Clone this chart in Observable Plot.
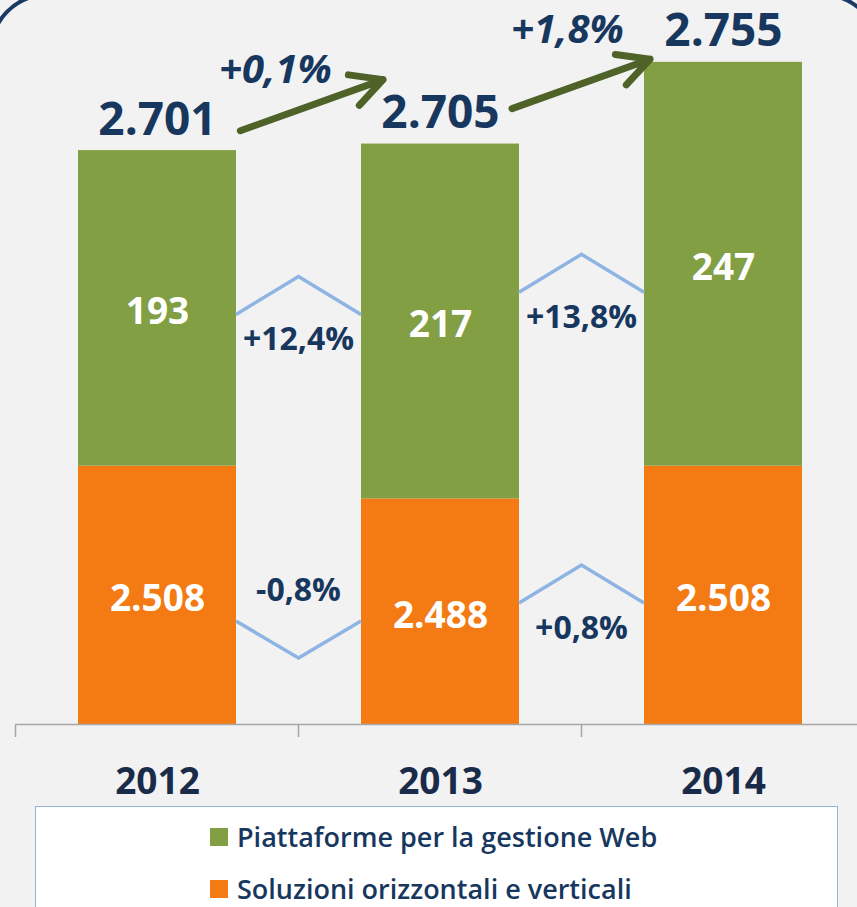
<!DOCTYPE html>
<html><head><meta charset="utf-8">
<script src="https://cdn.jsdelivr.net/npm/d3@7"></script>
<script src="https://cdn.jsdelivr.net/npm/@observablehq/plot@0.6"></script>
<style>
html,body{margin:0;padding:0;background:#f2f2f2;width:857px;height:907px;overflow:hidden;font-family:"Open Sans",sans-serif;}
#chart{position:absolute;left:0;top:0;}
#frame{position:absolute;left:-11px;top:-7px;width:892px;height:1000px;box-sizing:border-box;border:4px solid #1b3a63;border-radius:58px;pointer-events:none;}
#legend{position:absolute;left:35px;top:806px;width:803px;height:120px;background:#fff;border:1px solid #95b3d7;box-sizing:border-box;}
.item{position:absolute;left:174px;display:flex;align-items:center;font-size:27px;font-weight:600;color:#17375e;line-height:30px;}
.sw{width:18px;height:18px;margin-right:9px;}
</style></head><body>
<div id="chart"></div>
<div id="legend"></div>
<div id="frame"></div>
<script>
// ---- data ----
const years = ["2012", "2013", "2014"];
const soluzioni = [2508, 2488, 2508];     // Soluzioni orizzontali e verticali
const piattaforme = [193, 217, 247];      // Piattaforme per la gestione Web
const seriesNames = ["Piattaforme per la gestione Web", "Soluzioni orizzontali e verticali"];
const totalGrowth = ["+0,1%", "+1,8%"];
const piattGrowth = ["+12,4%", "+13,8%"];
const soluzGrowth = ["-0,8%", "+0,8%"];
const axisBase = 2350;                    // truncated baseline of the original chart

// ---- derived ----
const totals = years.map((y, i) => soluzioni[i] + piattaforme[i]);
const fmt = d3.formatLocale({decimal: ",", thousands: ".", grouping: [3], currency: ["€", ""]}).format(",d");
const stack = [];
years.forEach((year, i) => {
  stack.push({year, serie: seriesNames[1], y1: axisBase, y2: soluzioni[i], value: soluzioni[i]});
  stack.push({year, serie: seriesNames[0], y1: soluzioni[i], y2: totals[i], value: piattaforme[i]});
});
const rows = years.map((year, i) => ({year, tot: totals[i]}));

const GREEN = "#82a043", ORANGE = "#f47a13", NAVY = "#17375e", ARROW = "#4f6228", CHEV = "#8db4e2";

// annotation marks drawn with the plot's scales
function annotations(index, scales) {
  const x = scales.x, y = scales.y;
  const bw = x.bandwidth();
  const step = x(years[1]) - x(years[0]);
  const g = d3.create("svg:g");
  // axis ticks at category boundaries
  years.forEach(yr => {
    const bx = x(yr) - (step - bw) / 2;
    g.append("line").attr("x1", bx).attr("x2", bx).attr("y1", y(axisBase)).attr("y2", y(axisBase) + 13)
      .attr("stroke", "#a6a6a6").attr("stroke-width", 1.5);
  });
  const mids = {
    pia: years.map((_, i) => (y(soluzioni[i]) + y(totals[i])) / 2),
    sol: years.map((_, i) => (y(axisBase) + y(soluzioni[i])) / 2)
  };
  const groups = [{key: "pia", growth: piattGrowth}, {key: "sol", growth: soluzGrowth}];
  groups.forEach(({key, growth}) => {
    growth.forEach((lab, i) => {
      const xl = x(years[i]) + bw, xr = x(years[i + 1]), xm = (xl + xr) / 2;
      const anchor = (mids[key][i] + mids[key][i + 1]) / 2;
      const neg = lab.trim().startsWith("-");
      let ends, tip, base;
      if (neg) { ends = anchor + 18; tip = ends + 37; base = ends - 20; }
      else { ends = anchor; tip = ends - 38; base = ends + 36; }
      g.append("path").attr("d", `M${xl},${ends}L${xm},${tip}L${xr},${ends}`)
        .attr("fill", "none").attr("stroke", CHEV).attr("stroke-width", 3.5);
      g.append("text").attr("x", xm).attr("y", base).attr("text-anchor", "middle")
        .attr("font-size", 32).attr("font-weight", "bold").attr("fill", NAVY)
        .attr("font-family", "Open Sans").text(lab);
    });
  });
  return g.node();
}

const arrowSpecs = [
  {from: 0, to: 1, lift: [-6, 52], inset: [88, 61], label: totalGrowth[0], ldx: 118, ldy: -68},
  {from: 1, to: 2, lift: [6, 18], inset: [76, 78], label: totalGrowth[1], ldx: 127, ldy: -101}
];

const marks = [
  Plot.barY(stack, {x: "year", y1: "y1", y2: "y2", fill: "serie"}),
  Plot.ruleY([axisBase], {stroke: "#a6a6a6", strokeWidth: 1.5}),
  Plot.text(stack, {x: "year", y: d => (d.y1 + d.y2) / 2, text: d => fmt(d.value), fill: "white",
    fontSize: 37, fontWeight: "bold", lineAnchor: "middle", dy: 4}),
  Plot.text(rows, {x: "year", y: "tot", text: d => fmt(d.tot), fill: NAVY, fontSize: 46,
    fontWeight: "bold", lineAnchor: "bottom", dy: -16}),
  Plot.text(years, {x: d => d, y: () => axisBase, text: d => d, fill: "#1a2b4a", fontSize: 37,
    fontWeight: "bold", lineAnchor: "bottom", dy: 69}),
  annotations
];
arrowSpecs.forEach(s => {
  marks.push(Plot.arrow([s], {
    x1: d => years[d.from], x2: d => years[d.to],
    y1: d => totals[d.from] + d.lift[0], y2: d => totals[d.to] + d.lift[1],
    insetStart: s.inset[0], insetEnd: s.inset[1],
    stroke: ARROW, strokeWidth: 7, headLength: 7.5, headAngle: 55,
    strokeLinecap: "round", strokeLinejoin: "round"
  }));
  marks.push(Plot.text([s], {
    x: d => years[d.from], y: d => totals[d.from], text: d => d.label,
    dx: s.ldx, dy: s.ldy, lineAnchor: "bottom", fill: NAVY, fontSize: 40,
    fontWeight: "bold", fontStyle: "italic"
  }));
});

const chart = Plot.plot({
  width: 857, height: 806,
  marginLeft: 15, marginRight: 0, marginTop: 0, marginBottom: 0,
  style: {background: "transparent", fontFamily: "Open Sans", overflow: "visible"},
  x: {type: "band", domain: years, range: [15, 866], paddingInner: 0.44, paddingOuter: 0.22, axis: null},
  y: {domain: [axisBase, 2800], range: [724, 724 - 450 * 1.635], axis: null},
  color: {domain: seriesNames, range: [GREEN, ORANGE]},
  marks
});
document.getElementById("chart").appendChild(chart);

// legend
const legend = document.getElementById("legend");
[[seriesNames[0], GREEN, 15], [seriesNames[1], ORANGE, 67]].forEach(([name, col, top]) => {
  const it = document.createElement("div");
  it.className = "item";
  it.style.top = top + "px";
  it.innerHTML = `<span class="sw" style="background:${col}"></span><span>${name}</span>`;
  legend.appendChild(it);
});
</script>
</body></html>
